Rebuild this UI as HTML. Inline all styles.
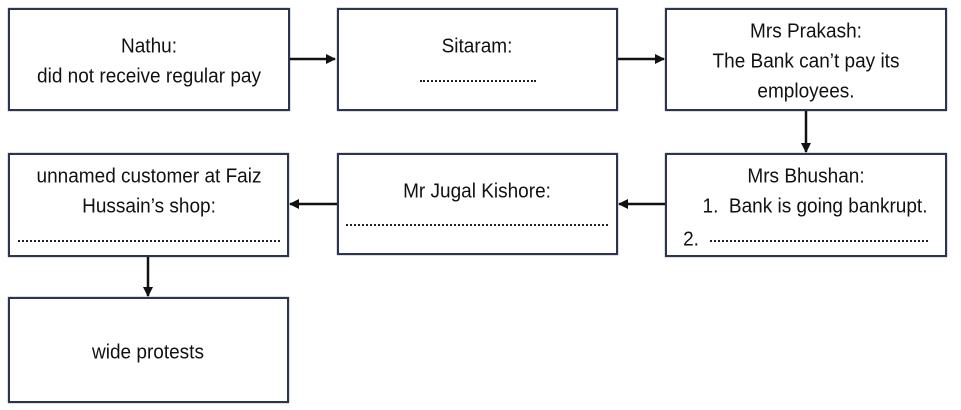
<!DOCTYPE html>
<html><head><meta charset="utf-8"><style>
body{margin:0;width:961px;height:410px;background:#fff;position:relative;overflow:hidden;font-family:"Liberation Sans",sans-serif;color:#111}
.b{position:absolute;border:2.5px solid #2a3552;box-sizing:border-box;box-shadow:0 0 1px #556}
.t{position:absolute;font-size:20px;white-space:nowrap;transform:translate(-50%,-50%) scaleX(0.95)}
.d{position:absolute;border-bottom:2px dotted #222;height:0}
</style></head><body>
<div class="b" style="left:8px;top:8px;width:282px;height:103px"></div>
<div class="b" style="left:337px;top:8px;width:281px;height:103px"></div>
<div class="b" style="left:665px;top:8px;width:282px;height:103px"></div>
<div class="b" style="left:8px;top:153px;width:281px;height:104px"></div>
<div class="b" style="left:337px;top:153px;width:281px;height:102px"></div>
<div class="b" style="left:665px;top:153px;width:282px;height:104px"></div>
<div class="b" style="left:8px;top:297px;width:281px;height:106px"></div>

<div class="t" style="left:149px;top:47px">Nathu:</div>
<div class="t" style="left:149px;top:77px">did not receive regular pay</div>
<div class="t" style="left:477px;top:47px">Sitaram:</div>
<div class="d" style="left:420px;top:80px;width:116px"></div>
<div class="t" style="left:806px;top:32px">Mrs Prakash:</div>
<div class="t" style="left:806px;top:62px">The Bank can’t pay its</div>
<div class="t" style="left:806px;top:92px">employees.</div>

<div class="t" style="left:149px;top:177px">unnamed customer at Faiz</div>
<div class="t" style="left:149px;top:207px">Hussain’s shop:</div>
<div class="d" style="left:18px;top:240px;width:262px"></div>
<div class="t" style="left:477px;top:192px">Mr Jugal Kishore:</div>
<div class="d" style="left:346px;top:224px;width:262px"></div>
<div class="t" style="left:806px;top:177px">Mrs Bhushan:</div>
<div class="t" style="left:815px;top:207px">1.&nbsp; Bank is going bankrupt.</div>
<div class="t" style="left:691px;top:240px">2.</div>
<div class="d" style="left:710px;top:240px;width:218px"></div>
<div class="t" style="left:148px;top:353px">wide protests</div>

<svg width="961" height="410" style="position:absolute;left:0;top:0">
<defs><marker id="a" markerWidth="10" markerHeight="10" refX="9" refY="5" orient="auto" markerUnits="userSpaceOnUse"><path d="M0,0 L10,5 L0,10z" fill="#111"/></marker></defs>
<g stroke="#111" stroke-width="2.5" fill="none" marker-end="url(#a)">
<line x1="290" y1="59" x2="335" y2="59"/>
<line x1="618" y1="59" x2="664" y2="59"/>
<line x1="806" y1="111" x2="806" y2="152"/>
<line x1="665" y1="204" x2="619" y2="204"/>
<line x1="337" y1="204" x2="290" y2="204"/>
<line x1="148" y1="257" x2="148" y2="296"/>
</g></svg>
</body></html>
